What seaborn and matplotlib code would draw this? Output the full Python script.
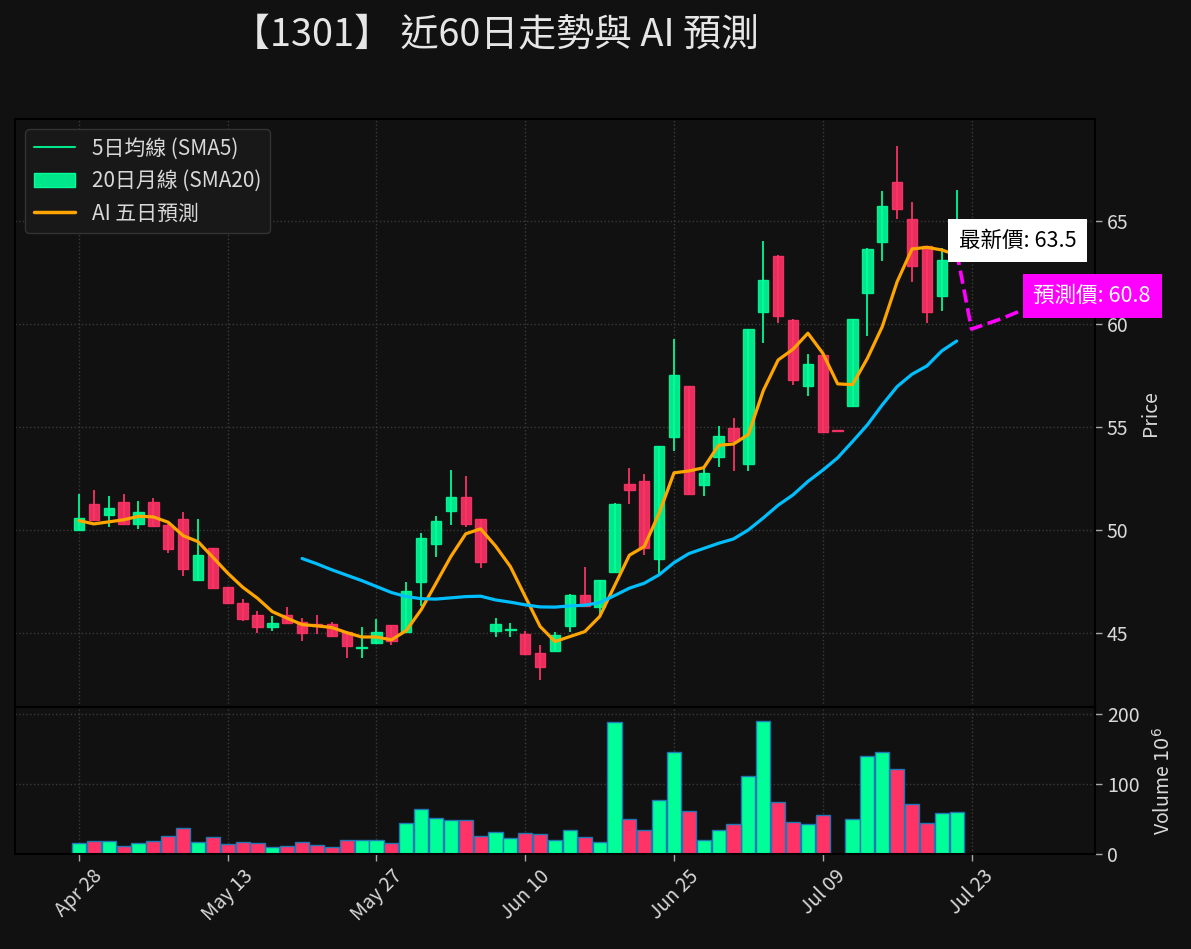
import numpy as np
import pandas as pd
import seaborn as sns
import matplotlib
matplotlib.use('Agg')
import matplotlib.pyplot as plt
from matplotlib.lines import Line2D
from matplotlib.patches import Patch

# ---- data (60 trading days) ----
opens = [50.0, 51.25, 50.7, 51.35, 50.3, 51.35, 50.25, 50.55, 47.55, 49.1,
         47.25, 46.45, 45.85, 45.3, 45.85, 45.55, 45.4, 45.45, 45.05, 44.25,
         44.5, 45.4, 45.05, 47.45, 49.3, 50.9, 51.6, 50.55, 45.1, 45.13,
         44.95, 44.0, 44.1, 45.35, 46.85, 46.25, 47.95, 52.25, 52.35, 48.6,
         54.5, 57.0, 52.2, 53.55, 54.95, 53.2, 60.6, 63.3, 60.2, 57.0,
         58.5, 54.8, 56.0, 61.5, 64.0, 66.9, 65.1, 63.8, 61.35, 63.2]
highs = [51.75, 51.95, 51.65, 51.75, 51.4, 51.55, 50.3, 50.85, 50.55, 49.1,
         47.25, 46.65, 46.05, 45.8, 46.25, 45.7, 45.85, 45.55, 45.1, 45.3,
         45.65, 45.4, 47.45, 49.85, 50.65, 52.9, 52.6, 50.55, 45.7, 45.5,
         45.1, 44.4, 45.05, 46.9, 48.2, 47.55, 51.3, 53.0, 52.7, 54.05,
         59.25, 57.0, 53.0, 55.05, 55.45, 59.75, 64.05, 63.35, 60.25, 58.55,
         58.5, 54.8, 60.25, 63.7, 66.45, 68.65, 65.9, 63.8, 63.7, 66.5]
lows = [50.0, 50.45, 50.15, 50.3, 50.05, 50.15, 48.9, 47.75, 47.55, 47.2,
        46.45, 45.6, 45.0, 45.1, 45.5, 44.6, 44.95, 44.85, 43.8, 43.8,
        44.5, 44.4, 45.0, 46.3, 48.7, 50.25, 50.15, 48.15, 44.8, 44.8,
        43.95, 42.7, 44.1, 45.05, 46.3, 45.8, 47.95, 51.25, 48.8, 47.8,
        53.85, 51.7, 51.65, 53.05, 52.85, 52.85, 59.05, 60.05, 57.05, 56.5,
        54.7, 54.8, 55.95, 59.4, 63.05, 65.1, 62.05, 60.05, 60.65, 63.1]
closes = [50.6, 50.5, 51.05, 50.3, 50.85, 50.2, 49.05, 48.1, 48.8, 47.2,
          46.45, 45.65, 45.3, 45.5, 45.5, 45.0, 45.35, 44.85, 44.35, 44.3,
          45.05, 44.6, 47.05, 49.6, 50.45, 51.6, 50.3, 48.45, 45.45, 45.17,
          43.95, 43.35, 44.9, 46.85, 46.3, 47.55, 51.25, 51.95, 49.1, 54.05,
          57.5, 51.75, 52.75, 54.55, 54.3, 59.75, 62.15, 60.4, 57.3, 58.05,
          54.75, 54.8, 60.25, 63.65, 65.75, 65.6, 62.8, 60.6, 63.1, 63.5]
volumes = [15.2, 18.1, 18.1, 11.4, 15.2, 18.1, 25.7, 37.1, 16.7, 24.3,
           14.3, 17.1, 15.7, 9.5, 11.4, 17.1, 12.9, 9.5, 20.0, 19.5,
           19.5, 15.7, 43.8, 64.3, 51.4, 48.1, 48.6, 25.7, 30.9, 22.8,
           30.0, 28.6, 19.5, 34.3, 24.3, 16.7, 188.0, 50.0, 34.8, 77.1,
           145.2, 61.4, 19.5, 34.3, 42.8, 110.9, 189.5, 74.3, 45.7, 42.8,
           55.7, 0.0, 50.0, 140.0, 145.2, 121.4, 71.4, 44.3, 58.1, 60.0]
sma5 = [50.45, 50.29, 50.39, 50.49, 50.66, 50.63, 50.37, 49.72, 49.43, 48.67,
        47.9, 47.22, 46.68, 46.03, 45.71, 45.4, 45.34, 45.26, 45.01, 44.8,
        44.8, 44.66, 45.11, 46.12, 47.41, 48.71, 49.81, 50.05, 49.22, 48.22,
        46.76, 45.31, 44.58, 44.82, 45.06, 45.79, 47.28, 48.77, 49.19, 50.81,
        52.77, 52.86, 53.02, 54.11, 54.17, 54.63, 56.76, 58.25, 58.77, 59.55,
        58.58, 57.09, 57.05, 58.33, 59.87, 62.05, 63.64, 63.72, 63.59, 63.35]
# 20-day line starts at day 15
sma20 = [48.61, 48.35, 48.06, 47.8, 47.54, 47.25, 46.96, 46.76, 46.66, 46.64,
         46.7, 46.76, 46.78, 46.6, 46.49, 46.36, 46.26, 46.25, 46.31, 46.34,
         46.47, 46.81, 47.17, 47.41, 47.82, 48.41, 48.85, 49.1, 49.35, 49.56,
         50.0, 50.58, 51.2, 51.7, 52.35, 52.9, 53.5, 54.29, 55.1, 56.07,
         56.96, 57.56, 57.96, 58.69, 59.17]
forecast = [59.75, 60.0, 60.25, 60.55, 60.8]
tick_labels = ['Apr 28', 'May 13', 'May 27', 'Jun 10', 'Jun 25', 'Jul 09', 'Jul 23']
title = '【1301】 近60日走勢與 AI 預測'

BG = '#111111'
UP, DOWN = '#00FF99', '#FF3366'
TXT = '#d9d9d9'

sns.set_theme(style='dark', rc={
    'figure.facecolor': BG, 'axes.facecolor': BG, 'axes.edgecolor': 'black',
    'axes.linewidth': 1.5, 'grid.color': '#3a3a3a', 'grid.linestyle': ':',
    'grid.linewidth': 1.0, 'text.color': TXT, 'axes.labelcolor': TXT,
    'xtick.color': TXT, 'ytick.color': TXT,
})
plt.rcParams['font.family'] = ['Noto Sans CJK TC', 'DejaVu Sans']
plt.rcParams['axes.unicode_minus'] = False

df = pd.DataFrame({'open': opens, 'high': highs, 'low': lows,
                   'close': closes, 'volume': volumes})
df['idx'] = np.arange(len(df))
df['dir'] = np.where(df['close'] > df['open'], 'up', 'down')
n = len(df)

fig = plt.figure(figsize=(11.91, 9.49), dpi=100)
ax = fig.add_axes([0.0126, 0.2550, 0.9068, 0.6196])
axv = fig.add_axes([0.0126, 0.1001, 0.9068, 0.1549], sharex=ax)

# candles
cols = np.where(df['dir'] == 'up', UP, DOWN)
ax.vlines(df['idx'], df['low'], df['high'], colors=cols, linewidth=1.4, alpha=0.9, zorder=2)
body_lo = np.minimum(df['open'], df['close'])
body_h = np.maximum((df['close'] - df['open']).abs(), 0.06)
ax.bar(df['idx'], body_h, bottom=body_lo, width=0.7, color=cols, alpha=0.9,
       edgecolor=cols, linewidth=1, zorder=3)

# moving averages
sns.lineplot(x=df['idx'], y=sma5, ax=ax, color='#FFA500', linewidth=2.3, zorder=4)
sns.lineplot(x=df['idx'][n - len(sma20):], y=sma20, ax=ax, color='#00BFFF',
             linewidth=2.3, zorder=4)

# forecast
fx = np.arange(n - 1, n + len(forecast))
fy = [closes[-1]] + forecast
ax.plot(fx, fy, color='#FF00FF', linestyle='--', linewidth=2.6, zorder=5)
ax.text(n - 1 + 0.15, closes[-1] + 0.55, f'最新價: {closes[-1]}', fontsize=15.5,
        color='black', ha='left', va='center', zorder=6,
        bbox=dict(boxstyle='square,pad=0.5', facecolor='white', edgecolor='none'))
ax.text(n - 1 + len(forecast) + 0.15, forecast[-1] + 0.55, f'預測價: {forecast[-1]}',
        fontsize=15.5, color='white', ha='left', va='center', zorder=6,
        bbox=dict(boxstyle='square,pad=0.5', facecolor='#FF00FF', edgecolor='none'))

# volume
sns.barplot(data=df, x='idx', y='volume', hue='dir', palette={'up': UP, 'down': DOWN},
            native_scale=True, dodge=False, width=0.95, errorbar=None, saturation=1,
            edgecolor='#1f77b4', linewidth=1, legend=False, ax=axv)

ticks = np.arange(0, 10 * len(tick_labels), 10)
for a in (ax, axv):
    a.grid(True)
    a.yaxis.tick_right()
    a.yaxis.set_label_position('right')
    a.tick_params(axis='both', which='both', length=5, width=1, color='#aaaaaa',
                  labelsize=14, left=False, right=True, bottom=True)
    for s in a.spines.values():
        s.set_color('black')
        s.set_linewidth(1.5)

ax.set_xlim(-4.3, 68.3)
ax.set_ylim(41.4, 69.95)
ax.set_yticks([45, 50, 55, 60, 65])
ax.set_ylabel('Price', fontsize=14, labelpad=8)
ax.set_xlabel('')
ax.tick_params(axis='x', labelbottom=False)

axv.set_ylim(0, 210)
axv.set_yticks([0, 100, 200])
axv.set_ylabel('Volume $10^6$', fontsize=14, labelpad=10)
axv.set_xlabel('')
axv.set_xticks(ticks)
axv.set_xticklabels(tick_labels, rotation=45, ha='center')
axv.set_xlim(-4.3, 68.3)

handles = [Line2D([0], [0], color='#00E68A', linewidth=1.5),
           Patch(facecolor='#00E68A', edgecolor=UP),
           Line2D([0], [0], color='#FFA500', linewidth=2.5)]
labels = ['5日均線 (SMA5)', '20日月線 (SMA20)', 'AI 五日預測']
leg = ax.legend(handles, labels, loc='upper left', fontsize=15, facecolor='#181818',
                edgecolor='#333333', framealpha=1, labelcolor=TXT)

fig.text(0.416, 0.963, title, ha='center', va='center', fontsize=27.3, color='#e6e6e6')

fig.savefig('out.png', dpi=100, facecolor=BG)
